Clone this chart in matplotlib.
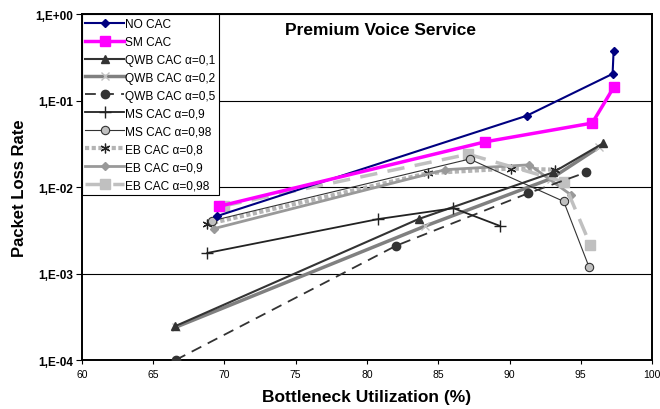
import math
import matplotlib
matplotlib.use("Agg")
import matplotlib.pyplot as plt
from matplotlib.ticker import FixedLocator, FuncFormatter

plt.rcParams['font.family'] = ['Liberation Sans', 'DejaVu Sans']

### Data
no_cac_x = [69.45, 91.2, 97.23, 97.3]
no_cac_y = [4.6e-3, 0.0668, 0.204, 0.373]

sm_cac_x = [69.6, 88.3, 95.8, 97.3]
sm_cac_y = [5.98e-3, 0.0334, 0.055, 0.142]

qwb01_x = [66.52, 83.62, 93.06, 96.55]
qwb01_y = [2.45e-4, 4.27e-3, 0.0148, 0.032]

qwb02_x = [66.6, 84.1, 92.9, 96.3]
qwb02_y = [2.4e-4, 3.55e-3, 0.0125, 0.029]

qwb05_x = [66.58, 82.05, 91.32, 95.37]
qwb05_y = [1.0e-4, 2.1e-3, 8.5e-3, 0.0148]

ms09_x = [68.8, 80.8, 86.07, 89.3]
ms09_y = [1.73e-3, 4.27e-3, 5.7e-3, 3.57e-3]

ms098_x = [69.15, 87.2, 93.8, 95.57]
ms098_y = [4.08e-3, 0.0211, 6.83e-3, 1.2e-3]

eb08_x = [68.8, 84.3, 90.1, 93.2]
eb08_y = [3.73e-3, 0.0145, 0.0164, 0.0159]

eb09_x = [69.24, 85.5, 91.4, 94.3]
eb09_y = [3.3e-3, 0.0159, 0.0181, 8.15e-3]

eb098_x = [70.0, 87.1, 93.8, 95.66]
eb098_y = [6.08e-3, 0.024, 0.0115, 2.16e-3]

x_ticks = [60, 65, 70, 75, 80, 85, 90, 95, 100]
y_ticks = [1e-4, 1e-3, 1e-2, 1e-1, 1e0]

fig = plt.figure(figsize=(6.6, 4.1), dpi=100)
ax = fig.add_axes([0.124, 0.1195, 0.864, 0.8435])

ax.plot(no_cac_x, no_cac_y, color='#000080', lw=1.5, marker='D', ms=4,
        label='NO CAC', zorder=5)
ax.plot(sm_cac_x, sm_cac_y, color='#ff00ff', lw=2.5, marker='s', ms=7,
        label='SM CAC', zorder=5)
ax.plot(qwb01_x, qwb01_y, color='#333333', lw=1.5, marker='^', ms=6,
        label='QWB CAC α=0,1', zorder=4)
ax.plot(qwb02_x, qwb02_y, color='#808080', lw=2.5, marker='x', ms=6,
        mec='#c0c0c0', label='QWB CAC α=0,2', zorder=3)
ax.plot(qwb05_x, qwb05_y, color='#333333', lw=1.3, ls=(0, (6, 4)),
        marker='o', ms=6, label='QWB CAC α=0,5', zorder=4)
ax.plot(ms09_x, ms09_y, color='#222222', lw=1.3, marker='+', ms=9,
        mew=1, label='MS CAC α=0,9', zorder=4)
ax.plot(ms098_x, ms098_y, color='#333333', lw=0.8, marker='o', ms=6,
        mfc='#c0c0c0', mec='#333333', mew=0.8, label='MS CAC α=0,98', zorder=4)
ax.plot(eb08_x, eb08_y, color='#b4b4b4', lw=3, ls=(0, (1, 0.6)),
        marker=(6, 2, 0), ms=7, mec='#222222', mew=0.9,
        label='EB CAC α=0,8', zorder=3)
ax.plot(eb09_x, eb09_y, color='#999999', lw=2, marker='D', ms=4.5,
        label='EB CAC α=0,9', zorder=3)
ax.plot(eb098_x, eb098_y, color='#c0c0c0', lw=2.5, ls=(0, (5, 3)),
        marker='s', ms=7.5, label='EB CAC α=0,98', zorder=3)

ax.set_yscale('log')
ax.set_xlim(60, 100)
ax.set_ylim(1e-4, 1)
ax.xaxis.set_major_locator(FixedLocator(x_ticks))
ax.yaxis.set_major_locator(FixedLocator(y_ticks))
ax.yaxis.set_minor_locator(FixedLocator([]))
ax.yaxis.set_major_formatter(FuncFormatter(
    lambda v, p: '1,E%+03d' % round(math.log10(v))))
ax.grid(axis='y', which='major', color='black', lw=0.8)
ax.set_axisbelow(True)

for lbl in ax.get_yticklabels():
    lbl.set_fontweight('bold')
ax.tick_params(axis='y', labelsize=8.5, length=4, direction='out', pad=2)
ax.tick_params(axis='x', labelsize=7.5, length=3, direction='out')
for s in ax.spines.values():
    s.set_linewidth(1.4)

ax.set_xlabel('Bottleneck Utilization (%)', fontsize=12.5, fontweight='bold',
              labelpad=7)
ax.set_ylabel('Packet Loss Rate', fontsize=12, fontweight='bold', labelpad=6)
ax.text(0.523, 0.955, 'Premium Voice Service', transform=ax.transAxes,
        ha='center', va='center', fontsize=12.5, fontweight='bold')

leg = ax.legend(loc='upper left', bbox_to_anchor=(0, 1), fontsize=8.6,
                frameon=True, fancybox=False, edgecolor='black',
                framealpha=1, borderaxespad=0, handlelength=3.2,
                handletextpad=0.1, labelspacing=0.5, borderpad=0.3)
leg.get_frame().set_linewidth(0.8)
leg.set_zorder(10)

fig.savefig('out.png', dpi=100)
